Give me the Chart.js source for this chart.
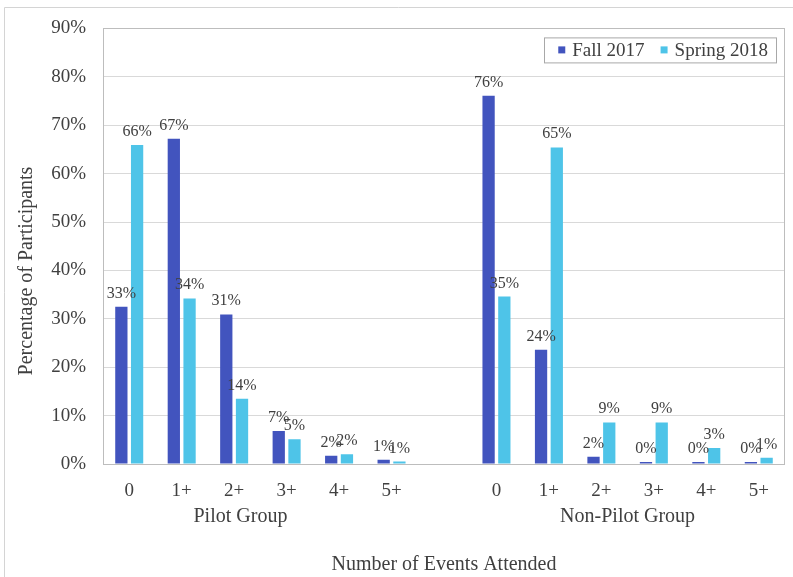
<!DOCTYPE html>
<html>
<head>
<meta charset="utf-8">
<script src="https://cdn.jsdelivr.net/npm/chart.js@4/dist/chart.umd.min.js"></script>
<style>
  html, body { margin: 0; padding: 0; background: #ffffff; }
  canvas { display: block; }
</style>
</head>
<body>
<canvas id="chart" width="793" height="577"></canvas>
<script>
// Event attendance by group, two semesters (percent of participants)
const categories = ['0', '1+', '2+', '3+', '4+', '5+', '', '0', '1+', '2+', '3+', '4+', '5+'];
const fall2017   = [32.5, 67.2, 30.9, 6.8, 1.7, 0.9, null, 76.1, 23.6, 1.5, 0.4, 0.4, 0.4];
const spring2018 = [65.9, 34.2, 13.5, 5.1, 2.0, 0.5, null, 34.6, 65.4, 8.6, 8.6, 3.3, 1.3];
const seriesNames = ['Fall 2017', 'Spring 2018'];
const groupNames = ['Pilot Group', 'Non-Pilot Group'];
const yTicks = [0, 10, 20, 30, 40, 50, 60, 70, 80, 90];

const SERIF = "'Liberation Serif', 'Times New Roman', serif";
const TEXT = '#404040';
const groupCenters = [2.12, 9.5]; // in category units

// Outer frame, plot border, y title, group labels, legend, value labels
const decorations = {
  id: 'decorations',
  beforeDraw(chart) {
    const ctx = chart.ctx;
    ctx.save();
    ctx.fillStyle = '#ffffff';
    ctx.fillRect(0, 0, chart.width, chart.height);
    ctx.strokeStyle = '#d4d4d4';
    ctx.lineWidth = 1;
    ctx.beginPath();
    ctx.moveTo(4.5, chart.height);
    ctx.lineTo(4.5, 7.5);
    ctx.lineTo(chart.width, 7.5);
    ctx.stroke();
    ctx.restore();
  },
  afterDatasetsDraw(chart) {
    const ctx = chart.ctx;
    const a = chart.chartArea;
    const x = chart.scales.x;
    ctx.save();

    // plot area border
    ctx.strokeStyle = '#bdbdbd';
    ctx.lineWidth = 1;
    ctx.strokeRect(Math.round(a.left) + 0.5, Math.round(a.top) + 0.5,
                   Math.round(a.right - a.left) - 1, Math.round(a.bottom - a.top));

    // value labels above bars
    ctx.font = '16px ' + SERIF;
    ctx.fillStyle = TEXT;
    ctx.textAlign = 'center';
    ctx.textBaseline = 'alphabetic';
    chart.data.datasets.forEach((ds, di) => {
      const meta = chart.getDatasetMeta(di);
      meta.data.forEach((bar, i) => {
        const v = ds.data[i];
        if (v === null || v === undefined) return;
        ctx.fillText(Math.round(v) + '%', bar.x, bar.y - 9);
      });
    });

    // group labels under category ticks
    ctx.font = '20px ' + SERIF;
    ctx.textBaseline = 'middle';
    groupNames.forEach((g, i) => {
      ctx.fillText(g, x.getPixelForValue(groupCenters[i]), 517);
    });

    // y axis title
    ctx.save();
    ctx.translate(27, 271);
    ctx.rotate(-Math.PI / 2);
    ctx.fillText('Percentage of Participants', 0, 0);
    ctx.restore();

    // legend box inside the plot area, top right
    const ds = chart.data.datasets;
    ctx.font = '19px ' + SERIF;
    const widths = ds.map(d => ctx.measureText(d.label).width);
    const padL = 14, mk = 7, mkGap = 7, itemGap = 16, padR = 8, h = 25;
    let w = padL + padR;
    widths.forEach((tw, i) => { w += mk + mkGap + tw + (i ? itemGap : 0); });
    const right = a.right - 9, top = a.top + 9;
    const left = right - w;
    ctx.fillStyle = '#ffffff';
    ctx.fillRect(left, top, w, h);
    ctx.strokeStyle = '#a8a8a8';
    ctx.strokeRect(Math.round(left) + 0.5, top + 0.5, Math.round(w), h);
    let cx = left + padL;
    const cy = top + h / 2;
    ds.forEach((d, i) => {
      if (i) cx += itemGap;
      ctx.fillStyle = d.backgroundColor;
      ctx.fillRect(cx, cy - mk / 2, mk, mk);
      cx += mk + mkGap;
      ctx.fillStyle = TEXT;
      ctx.textAlign = 'left';
      ctx.fillText(d.label, cx, cy + 1);
      cx += widths[i];
    });
    ctx.restore();
  }
};

new Chart(document.getElementById('chart'), {
  type: 'bar',
  data: {
    labels: categories,
    datasets: [
      { label: seriesNames[0], data: fall2017, backgroundColor: '#4254BE' },
      { label: seriesNames[1], data: spring2018, backgroundColor: '#4EC4E8' }
    ]
  },
  options: {
    responsive: false,
    animation: false,
    devicePixelRatio: 1,
    categoryPercentage: 0.6,
    barPercentage: 0.78,
    layout: { padding: { top: 26, right: 8, left: 0, bottom: 0 } },
    plugins: {
      legend: { display: false },
      tooltip: { enabled: false }
    },
    scales: {
      x: {
        type: 'category',
        grid: { display: false, drawTicks: false },
        border: { display: false },
        ticks: {
          color: TEXT,
          font: { family: SERIF, size: 19 },
          maxRotation: 0,
          autoSkip: false,
          padding: 16
        },
        title: {
          display: true,
          text: 'Number of Events Attended',
          color: TEXT,
          font: { family: SERIF, size: 20 },
          padding: { top: 0, bottom: 0 }
        },
        afterFit(scale) { scale.height = 113; }
      },
      y: {
        min: 0,
        max: 90,
        afterBuildTicks(scale) { scale.ticks = yTicks.map(v => ({ value: v })); },
        grid: { color: '#d9d9d9', drawTicks: false },
        border: { display: false },
        ticks: {
          color: TEXT,
          font: { family: SERIF, size: 19 },
          padding: 17,
          callback: v => v + '%'
        },
        afterFit(scale) { scale.width = 103; }
      }
    }
  },
  plugins: [decorations]
});
</script>
</body>
</html>
